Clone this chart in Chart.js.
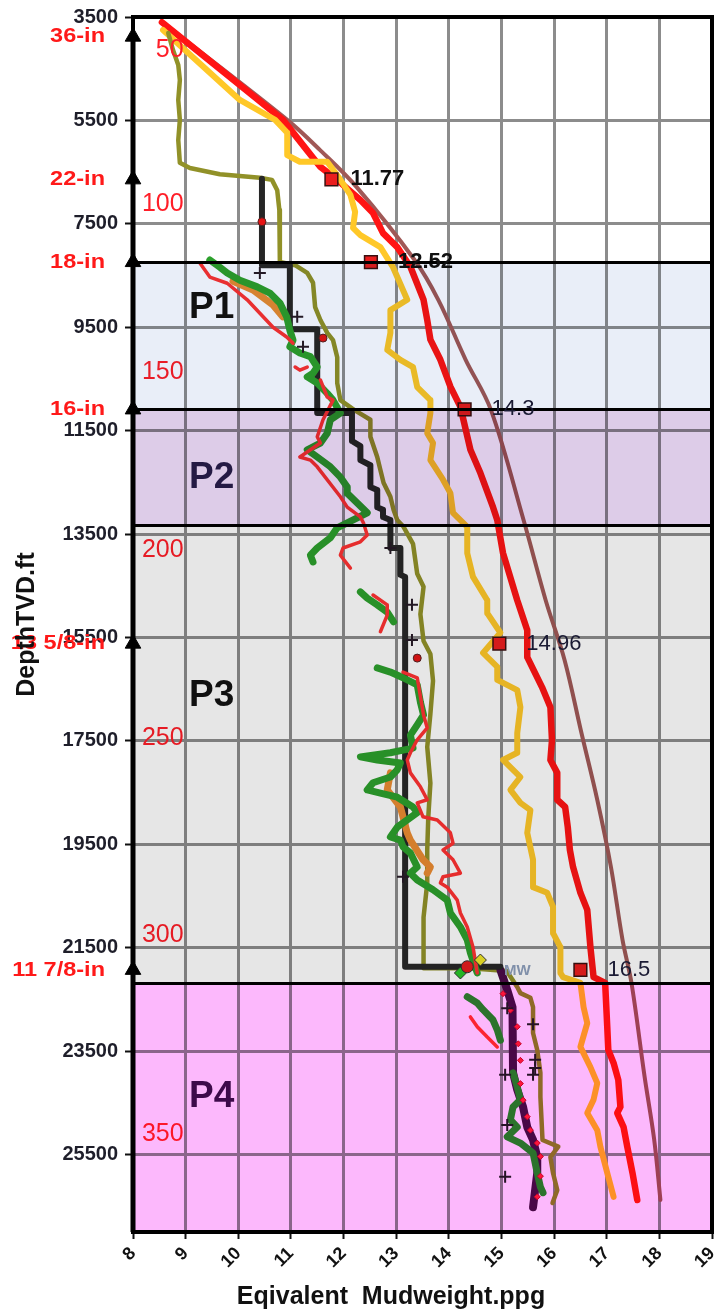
<!DOCTYPE html>
<html>
<head>
<meta charset="utf-8">
<title>Equivalent mud weight vs depth</title>
<script src="https://cdn.jsdelivr.net/npm/chart.js@4/dist/chart.umd.min.js"></script>
<style>
  html, body { margin: 0; padding: 0; background: #fff; }
  #wrap { width: 718px; height: 1311px; }
  canvas { display: block; }
</style>
</head>
<body>
<div id="wrap"><canvas id="chart" width="718" height="1311" style="width:718px;height:1311px"></canvas></div>
<script>
// ---- axes ----
const depthTicks = [3500, 5500, 7500, 9500, 11500, 13500, 15500, 17500, 19500, 21500, 23500, 25500];
const mudTicks = [8, 9, 10, 11, 12, 13, 14, 15, 16, 17, 18, 19];

// ---- casing shoes ----
const casingNames = ['36-in', '22-in', '18-in', '16-in', '13 5/8-in', '11 7/8-in'];
const casingDepth = [3880, 6640, 8240, 11090, 15620, 21930];

// ---- mud weight at each shoe (ppg) ----
const shoeMW = [11.77, 12.52, 14.3, 14.96, 16.5];
const shoeDepth = [6640, 8240, 11090, 15620, 21930];

// ---- pressure zones ----
const zoneNames = ['P1', 'P2', 'P3', 'P4'];
const zoneTop = [8240, 11090, 13320, 22180];
const zoneBottom = [11090, 13320, 22180, 27000];
const zoneLabelDepth = [9130, 12420, 16630, 24390];

// ---- reference numbers on the left edge ----
const refMarks = ['50', '100', '150', '200', '250', '300', '350'];
const refMarkDepth = [4140, 7120, 10370, 13810, 17440, 21250, 25100];

// ---- overburden gradient ----
const overburdenX = [8.55, 10.93, 11.55, 12.25, 13.35, 13.8, 14.32, 14.8, 15.42, 15.84, 16.2, 16.52, 16.82, 17.08, 17.3, 17.47, 17.72, 17.9, 18.02];
const overburdenD = [3600, 5490, 6070, 6790, 8200, 8970, 10130, 11100, 13230, 14780, 15940, 17350, 18640, 19940, 21350, 22180, 24000, 25200, 26380];

// ---- fracture gradient ----
const fracX = [8.55, 10.85, 11.3, 11.56, 11.88, 12.32, 12.56, 12.75, 13.02, 13.27, 13.52, 13.59, 13.65, 13.84, 14.03, 14.22, 14.41, 14.6, 14.84, 14.92, 15.03, 15.3, 15.49, 15.49, 15.77, 15.93, 15.96, 15.93, 16.06, 16.06, 16.21, 16.26, 16.3, 16.36, 16.5, 16.63, 16.69, 16.75, 16.97, 17.01, 17.03, 17.13, 17.22, 17.26, 17.2, 17.32, 17.39, 17.49, 17.58];
const fracD = [3600, 5490, 6070, 6400, 6650, 7040, 7290, 7680, 7950, 8330, 8970, 9360, 9740, 10130, 10650, 11040, 11870, 12320, 12980, 13230, 13870, 14780, 15360, 15880, 16460, 16850, 17490, 17870, 18120, 18640, 18780, 19170, 19610, 19940, 20440, 20770, 21490, 22070, 22180, 23030, 23480, 23730, 24060, 24580, 24700, 24970, 25350, 25860, 26380];

// ---- minimum horizontal stress ----
const shminX = [8.57, 10.03, 10.7, 10.93, 10.93, 11.17, 11.69, 11.94, 12.13, 12.22, 12.18, 12.32, 12.7, 12.94, 13.21, 12.89, 12.89, 12.83, 13.08, 13.32, 13.4, 13.65, 13.65, 13.59, 13.7, 13.65, 13.89, 14.03, 14.08, 14.35, 14.35, 14.46, 14.73, 14.73, 14.98, 14.65, 14.92, 14.92, 15.3, 15.36, 15.3, 15.3, 15.03, 15.36, 15.17, 15.36, 15.55, 15.49, 15.6, 15.6, 15.87, 15.98, 15.98, 16.12, 16.12, 16.17, 16.5, 16.56, 16.63, 16.5, 16.69, 16.82, 16.75, 16.63, 16.82, 16.88, 17.01, 17.13];
const shminD = [3750, 5105, 5490, 5740, 6170, 6300, 6300, 6650, 6940, 7270, 7580, 7720, 7950, 8340, 8970, 9170, 9610, 9940, 10130, 10270, 10660, 10910, 11160, 11550, 11740, 12070, 12450, 12710, 13090, 13360, 13870, 14330, 14780, 15030, 15410, 15800, 16070, 16320, 16520, 16850, 17350, 17730, 17870, 18200, 18450, 18700, 18840, 19280, 19800, 20330, 20440, 20710, 21220, 21490, 21990, 22070, 22180, 22650, 22960, 23420, 23810, 24120, 24440, 24700, 25030, 25350, 25860, 26320];

// ---- wellbore stability limit ----
const wbsX = [8.67, 8.76, 8.86, 8.89, 8.86, 8.89, 8.86, 8.89, 9.08, 9.65, 10.41, 10.64, 10.74, 10.78, 10.79, 10.79, 11.08, 11.31, 11.42, 11.46, 11.56, 11.69, 11.8, 11.88, 11.88, 11.94, 12.2, 12.51, 12.51, 12.64, 12.7, 12.76, 12.89, 12.95, 13.02, 13.14, 13.32, 13.4, 13.52, 13.46, 13.52, 13.65, 13.7, 13.65, 13.59, 13.65, 13.61, 13.59, 13.59, 13.52, 13.52, 13.52, 14.41, 15.1, 15.3, 15.36, 15.55, 15.6, 15.6, 15.68, 15.74, 15.74, 15.78, 16.08, 15.93, 15.98, 16.06, 15.97];
const wbsD = [3810, 4140, 4430, 4720, 5105, 5490, 5880, 6320, 6420, 6540, 6610, 6650, 6850, 7230, 7810, 8240, 8300, 8450, 8640, 9110, 9360, 9610, 9750, 10080, 10580, 10910, 11100, 11290, 11620, 12010, 12260, 12510, 12780, 13030, 13230, 13360, 13690, 14270, 14520, 15050, 15570, 15820, 16340, 16980, 17620, 18320, 18970, 19610, 20250, 20910, 21540, 21900, 21900, 21950, 22260, 22380, 22470, 22650, 23150, 23480, 23920, 24390, 25220, 25350, 25550, 25860, 26190, 26440];

// ---- planned mud weight ----
const mwX = [10.45, 10.45, 10.98, 10.98, 11.5, 11.5, 12.16, 12.16, 12.32, 12.32, 12.51, 12.51, 12.64, 12.64, 12.75, 12.75, 12.89, 12.89, 13.08, 13.08, 13.17, 13.17, 14.98];
const mwD = [6630, 8300, 8300, 9540, 9540, 11160, 11160, 11700, 11800, 12070, 12170, 12590, 12650, 12980, 13030, 13170, 13230, 13770, 13770, 14290, 14330, 21870, 21870];
const mwLowerX = [14.98, 15.11, 15.21, 15.22, 15.3, 15.41, 15.49, 15.6, 15.68, 15.68, 15.6];
const mwLowerD = [21930, 22320, 22650, 23920, 24250, 24580, 24970, 25220, 25550, 25860, 26520];
const mwLowerDotX = [15.03, 15.17, 15.3, 15.32, 15.36, 15.36, 15.41, 15.49, 15.55, 15.68, 15.74, 15.74, 15.68];
const mwLowerDotD = [22390, 22710, 23030, 23360, 23680, 24130, 24450, 24770, 25030, 25280, 25540, 25920, 26320];

// ---- pore pressure (sonic) ----
const ppSonicX = [9.46, 9.65, 9.79, 10.03, 10.36, 10.6, 10.79, 10.92, 10.98, 11.04, 10.98, 11.17, 11.37, 11.5, 11.42, 11.31, 11.5, 11.69, 11.8,
  11.94, 11.75, 11.69, 11.56, 11.31, 11.5, 11.75, 11.94, 12.07, 12.07, 12.26, 12.45,
  11.88, 11.75, 11.5, 11.37, 11.42, null,
  12.32, 12.45, 12.64, 12.83, 12.95, null,
  12.64, 12.89, 13.13, 13.4, 13.46, 13.52, 13.4, 13.27, 13.32,
  13.13, 12.89, 12.32, 12.64, 13.08, 13.02, 12.89, 12.56, 12.45, 12.7, 13.02, 13.32, 13.4, 13.21, 13.02, 12.89, 13.08, 13.13, 13.27, 13.4, 13.27, 13.4, 13.7, 13.97, 14.03, 14.22, 14.35, 14.41, 14.54, null,
  14.35, 14.54, 14.65, 14.84, 14.92, 14.98, null,
  15.22, 15.3, 15.36, 15.22, 15.17, 15.3, 15.11, 15.36, 15.6, 15.68, 15.74, 15.79];
const ppSonicD = [8200, 8340, 8450, 8590, 8720, 8840, 9030, 9300, 9560, 9750, 9880, 10000, 10070, 10270, 10390, 10460, 10580, 10780, 10910,
  11160, 11290, 11550, 11740, 11870, 12010, 12200, 12400, 12590, 12710, 12900, 13090,
  13380, 13570, 13770, 13910, 14040, null,
  14620, 14740, 14870, 15010, 15200, null,
  16090, 16170, 16280, 16420, 16750, 17000, 17190, 17390, 17640,
  17680, 17730, 17810, 17870, 17930, 18060, 18200, 18310, 18450, 18510, 18590, 18780, 18890, 19030, 19170, 19360, 19420, 19550, 19670, 19940, 20060, 20190, 20380, 20580, 20830, 21100, 21350, 21600, 21990, null,
  22450, 22570, 22700, 22900, 23090, 23290, null,
  23920, 24190, 24440, 24580, 24830, 24970, 25160, 25280, 25470, 25860, 26130, 26240];

// ---- pore pressure (resistivity) ----
const ppResX = [9.27, 9.46, 9.79, 10.17, 10.41, 10.66, 10.92, 11.04, null, 11.08, 11.17, 11.31, null, 11.56, 11.69, 11.8,
  11.61, 11.5, 11.56, 11.17, 11.37, 11.5, 11.94, 12.07, 12.32, 12.38,
  12.45, 12.32, 11.99, 11.94, 12.13, null,
  12.56, 12.83, 12.83, 12.7, null,
  13.13, 13.4, 13.52, 13.59, 13.4, 13.27, 13.21, 13.27, 13.46, 13.59, 13.4, 13.51, 13.78, 14.03, 14.08, 13.89, 14.08, 14.22, 13.89, 13.84, 13.97, 14.16, 14.22, 14.35, 14.46, 14.54, null,
  14.41, 14.54, 14.73, 14.92];
const ppResD = [8260, 8530, 8650, 8970, 9230, 9500, 9690, 9810, null, 10270, 10330, 10270, null, 10520, 10850, 10910,
  11290, 11620, 11740, 12010, 12070, 12200, 12780, 12980, 13170, 13290,
  13520, 13650, 13770, 13910, 14160, null,
  14680, 14870, 15070, 15390, null,
  16170, 16280, 17000, 17250, 17480, 17730, 17870, 18120, 18390, 18640, 18700, 18970, 19030, 19280, 19480, 19610, 19800, 20060, 20130, 20250, 20330, 20580, 20830, 21100, 21490, 21990, null,
  22840, 23030, 23230, 23420];

// ---- pore pressure (d-exponent) ----
const ppDxcX = [9.9, 10.28, 10.66, 10.85, null, 12.89, 12.83, 13.08, 13.21, 13.27, 13.51, 13.65, 13.59];
const ppDxcD = [8610, 8780, 9070, 9300, null, 18120, 18450, 18780, 19280, 19420, 19800, 19940, 20060];

// ---- measured points ----
const kickX = [10.45, 11.61, 13.4];
const kickD = [7460, 9710, 15900];
const gasX = [10.41, 11.12, 11.23, 12.89, 13.3, 13.3, 13.13, 15.6, 15.64, 15.64, 15.6, 15.11, 15.07, 15.11, 15.07];
const gasD = [8450, 9300, 9880, 13770, 14870, 15550, 20130, 22980, 23670, 23830, 23960, 22670, 23960, 24930, 25930];
const testX = [14.22, 14.35, 14.6];
const testD = [21990, 21870, 21740];

const FONT = '"Liberation Sans", Arial, Helvetica, sans-serif';
const pts = (xs, ds) => xs.map((v, i) => ({ x: v, y: ds[i] }));

function curve(label, xs, ds, color, width, extra) {
  return Object.assign({
    label, data: pts(xs, ds), showLine: true, spanGaps: false,
    borderColor: color, backgroundColor: color, borderWidth: width,
    pointRadius: 0, pointHoverRadius: 0, tension: 0,
    borderJoinStyle: 'round', borderCapStyle: 'round'
  }, extra || {});
}

// draws text with a slight horizontal stretch
function wideText(ctx, text, x, y, align, stretch) {
  ctx.save();
  ctx.translate(x, y);
  ctx.scale(stretch, 1);
  ctx.textAlign = align;
  ctx.fillText(text, 0, 0);
  ctx.restore();
}

const decor = {
  id: 'decor',
  beforeDraw(chart) {
    const c = chart.ctx;
    c.save();
    c.fillStyle = '#ffffff';
    c.fillRect(0, 0, chart.width, chart.height);
    c.restore();
  },
  afterDatasetsDraw(chart) {
    const { ctx, chartArea: a, scales } = chart;
    const X = v => scales.x.getPixelForValue(v);
    const Y = v => scales.y.getPixelForValue(v);

    // reference numbers, tinted by the zones below
    ctx.save();
    ctx.font = '25px ' + FONT;
    ctx.fillStyle = 'rgb(255,30,40)';
    ctx.textBaseline = 'middle';
    ctx.textAlign = 'right';
    refMarks.forEach((t, i) => ctx.fillText(t, X(9) - 2, Y(refMarkDepth[i])));
    ctx.restore();

    // pressure zones, multiplied over grid and curves
    ctx.save();
    ctx.beginPath();
    ctx.rect(a.left, a.top, a.right - a.left, a.bottom - a.top);
    ctx.clip();
    ctx.globalCompositeOperation = 'multiply';
    const zoneColors = ['rgb(233,238,248)', 'rgb(221,204,232)', 'rgb(230,230,230)', 'rgb(252,184,252)'];
    zoneTop.forEach((t, i) => {
      const y0 = Y(t), y1 = Y(zoneBottom[i]);
      ctx.fillStyle = zoneColors[i];
      ctx.fillRect(a.left, y0, a.right - a.left, y1 - y0);
    });
    ctx.restore();

    ctx.save();
    // zone boundaries
    ctx.strokeStyle = '#000';
    ctx.lineWidth = 3;
    zoneTop.forEach(t => {
      const y = Math.round(Y(t)) + 0.5;
      ctx.beginPath();
      ctx.moveTo(a.left, y);
      ctx.lineTo(a.right, y);
      ctx.stroke();
    });
    // plot frame
    ctx.lineWidth = 4;
    ctx.strokeRect(a.left, a.top, a.right - a.left, a.bottom - a.top);

    // zone names
    const zoneInk = ['#111111', '#241a44', '#111111', '#3d0a4a'];
    ctx.font = 'bold 37px ' + FONT;
    ctx.textBaseline = 'middle';
    ctx.textAlign = 'left';
    zoneNames.forEach((n, i) => {
      ctx.fillStyle = zoneInk[i];
      ctx.fillText(n, 189, Y(zoneLabelDepth[i]));
    });

    // casing shoe names
    ctx.font = 'bold 21px ' + FONT;
    ctx.fillStyle = 'rgb(255,25,25)';
    casingNames.forEach((n, i) => wideText(ctx, n, 105, Y(casingDepth[i]), 'right', 1.12));

    // mud weight values at the shoes
    ctx.textAlign = 'left';
    shoeMW.forEach((v, i) => {
      ctx.font = (i < 2 ? 'bold 22px ' : '22px ') + FONT;
      ctx.fillStyle = i < 2 ? '#101010' : '#1a1a33';
      ctx.fillText(String(v), X(v) + (i === 0 ? 19 : 27), Y(shoeDepth[i]));
    });
    ctx.font = 'bold 15px ' + FONT;
    ctx.fillStyle = '#8090aa';
    ctx.fillText('MW', X(15.05), Y(21950));

    // axis titles
    ctx.fillStyle = '#111';
    ctx.font = 'bold 25px ' + FONT;
    ctx.textAlign = 'center';
    ctx.fillText('Eqivalent  Mudweight.ppg', 391, 1297);
    ctx.save();
    ctx.translate(27, (a.top + a.bottom) / 2);
    ctx.rotate(-Math.PI / 2);
    ctx.fillText('DepthTVD.ft', 0, 0);
    ctx.restore();
    ctx.restore();
  }
};

const datasets = [
  {
    label: 'Shoe MW', data: pts(shoeMW, shoeDepth), pointStyle: 'rect', pointRadius: 9,
    backgroundColor: 'rgb(235,30,30)', borderColor: '#3a1010', pointBorderWidth: 1.5, clip: false
  },
  {
    label: 'Tests', data: pts(testX, testD), pointStyle: ['rectRot', 'circle', 'rectRot'], pointRadius: 6,
    backgroundColor: ['rgb(40,200,40)', 'rgb(230,30,30)', 'rgb(240,230,40)'], borderColor: '#333', pointBorderWidth: 1
  },
  {
    label: 'Gas', data: pts(gasX, gasD), pointStyle: 'cross', pointRadius: 6,
    borderColor: '#261a26', backgroundColor: '#261a26', pointBorderWidth: 2
  },
  {
    label: 'Kick', data: pts(kickX, kickD), pointStyle: 'circle', pointRadius: 4,
    backgroundColor: 'rgb(230,20,20)', borderColor: '#552222', pointBorderWidth: 1
  },
  {
    label: 'Lower MW markers', data: pts(mwLowerDotX, mwLowerDotD), pointStyle: 'rectRot', pointRadius: 3,
    backgroundColor: 'rgb(255,30,60)', borderColor: 'rgb(200,0,40)', pointBorderWidth: 1
  },
  curve('PP resistivity', ppResX, ppResD, 'rgb(255,50,50)', 3.5),
  curve('PP sonic', ppSonicX, ppSonicD, 'rgb(44,160,44)', 7),
  curve('PP dxc', ppDxcX, ppDxcD, 'rgb(235,140,50)', 7),
  curve('Mud weight', mwX, mwD, '#262626', 6),
  curve('Mud weight lower', mwLowerX, mwLowerD, '#4a0a48', 8),
  curve('Wellbore stability', wbsX, wbsD, 'rgb(145,145,40)', 4.5),
  curve('Shmin', shminX, shminD, 'rgb(255,200,40)', 6),
  curve('Fracture gradient', fracX, fracD, 'rgb(255,20,20)', 6.5),
  curve('Overburden', overburdenX, overburdenD, 'rgb(160,88,86)', 4, { tension: 0.35 }),
  {
    label: 'Casing', data: pts(casingDepth.map(() => 8).concat([8]), casingDepth.concat([27000])),
    showLine: true, borderColor: '#000', backgroundColor: '#000', borderWidth: 5,
    pointStyle: 'triangle', pointRadius: casingDepth.map(() => 9).concat([0]), pointBorderWidth: 1,
    clip: false
  }
];

new Chart(document.getElementById('chart'), {
  type: 'scatter',
  data: { datasets },
  options: {
    responsive: false,
    animation: false,
    devicePixelRatio: 1,
    events: [],
    layout: { autoPadding: false, padding: { top: 17, right: 6, left: 0, bottom: 0 } },
    plugins: { legend: { display: false }, tooltip: { enabled: false } },
    scales: {
      x: {
        type: 'linear', min: 8, max: 19,
        afterBuildTicks: s => { s.ticks = mudTicks.map(v => ({ value: v })); },
        afterFit: s => { s.height = 79; s.paddingLeft = 0; s.paddingRight = 0; },
        ticks: {
          autoSkip: false, minRotation: 45, maxRotation: 45, padding: 4,
          color: '#111', font: { family: FONT, size: 18, weight: 'bold' },
          callback: v => String(v)
        },
        grid: { color: 'rgb(140,140,140)', lineWidth: 3, tickColor: '#111', tickLength: 7, tickWidth: 2 },
        border: { display: false },
        title: { display: false }
      },
      y: {
        type: 'linear', reverse: true, min: 3500, max: 27000,
        afterBuildTicks: s => { s.ticks = depthTicks.map(v => ({ value: v })); },
        afterFit: s => { s.width = 133; s.paddingTop = 0; s.paddingBottom = 0; },
        ticks: {
          autoSkip: false, padding: 7,
          color: '#1e1e2a', font: { family: FONT, size: 20, weight: 'bold' },
          callback: v => String(v)
        },
        grid: { color: 'rgb(140,140,140)', lineWidth: 3, tickColor: '#111', tickLength: 8, tickWidth: 2 },
        border: { display: false },
        title: { display: false }
      }
    }
  },
  plugins: [decor]
});
</script>
</body>
</html>
